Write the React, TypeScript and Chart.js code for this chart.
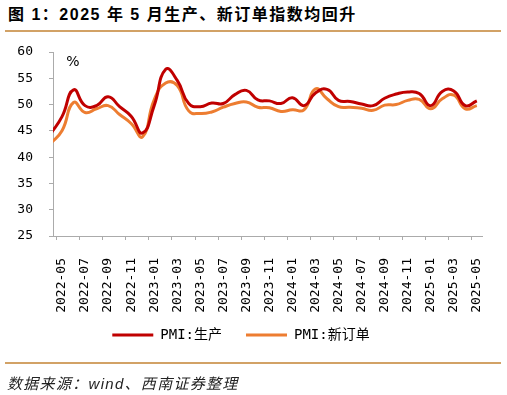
import React, { useEffect, useRef } from "react";
import { Chart, registerables } from "chart.js";

Chart.register(...registerables);

const months = [
  "2022-04", "2022-05", "2022-06", "2022-07", "2022-08", "2022-09", "2022-10", "2022-11", "2022-12",
  "2023-01", "2023-02", "2023-03", "2023-04", "2023-05", "2023-06", "2023-07", "2023-08", "2023-09",
  "2023-10", "2023-11", "2023-12",
  "2024-01", "2024-02", "2024-03", "2024-04", "2024-05", "2024-06", "2024-07", "2024-08", "2024-09",
  "2024-10", "2024-11", "2024-12",
  "2025-01", "2025-02", "2025-03", "2025-04", "2025-05",
];

const production = [
  44.4, 47.7, 52.8, 49.8, 49.8, 51.5, 49.6, 47.8, 44.6,
  49.8, 56.7, 54.6, 50.2, 49.6, 50.3, 50.2, 51.9, 52.7, 50.9, 50.7, 50.2,
  51.3, 49.8, 52.2, 52.9, 50.8, 50.6, 50.1, 49.8, 51.2, 52.0, 52.4, 52.1,
  49.8, 52.5, 52.6, 49.8, 50.7,
];

const newOrders = [
  42.6, 45.0, 50.4, 48.5, 49.2, 49.8, 48.1, 46.4, 43.9,
  50.9, 54.1, 53.6, 48.8, 48.3, 48.6, 49.5, 50.2, 50.5, 49.5, 49.4, 48.7,
  49.0, 49.0, 53.0, 51.1, 49.6, 49.5, 49.3, 48.9, 49.9, 50.0, 50.8, 51.0,
  49.2, 51.1, 51.8, 49.2, 49.8,
];

const seriesNames = ["PMI:生产", "PMI:新订单"];
const seriesColors = ["#C00000", "#ED7D31"];
const yTickValues = [25, 30, 35, 40, 45, 50, 55, 60];
const xLabelIndices = [1, 3, 5, 7, 9, 11, 13, 15, 17, 19, 21, 23, 25, 27, 29, 31, 33, 35, 37];

const AXIS_COLOR = "#ABABAB";
const MONO = "'DejaVu Sans Mono', 'Noto Sans CJK SC', monospace";
const GOLD = "#D2A266";

const extrasPlugin = {
  id: "extras",
  afterLayout(chart: any) {
    // pull the legend up closer to the rotated axis labels
    if (chart.legend) chart.legend.top -= 17;
  },
  afterDraw(chart: any) {
    const { ctx, chartArea } = chart;
    const xs = chart.scales.x;
    ctx.save();
    ctx.strokeStyle = AXIS_COLOR;
    ctx.lineWidth = 1;
    ctx.beginPath();
    xLabelIndices.forEach((i) => {
      const px = Math.round(xs.getPixelForValue(i - 0.5)) + 0.5;
      ctx.moveTo(px, chartArea.bottom);
      ctx.lineTo(px, chartArea.bottom + 4);
    });
    ctx.stroke();
    ctx.fillStyle = "#000";
    ctx.font = "14px 'DejaVu Sans', sans-serif";
    ctx.textAlign = "center";
    ctx.textBaseline = "middle";
    ctx.fillText("%", chartArea.left + 20, chartArea.top + 10);
    ctx.restore();
  },
};

function PmiChart() {
  const ref = useRef<HTMLCanvasElement | null>(null);
  useEffect(() => {
    if (!ref.current) return;
    const toPoints = (arr: number[]) => arr.map((v, i) => ({ x: i, y: v }));
    const chart = new Chart(ref.current, {
      type: "line",
      data: {
        datasets: [
          {
            label: seriesNames[0],
            data: toPoints(production),
            borderColor: seriesColors[0],
            backgroundColor: seriesColors[0],
            borderWidth: 3,
            pointRadius: 0,
            tension: 0.5,
          },
          {
            label: seriesNames[1],
            data: toPoints(newOrders),
            borderColor: seriesColors[1],
            backgroundColor: seriesColors[1],
            borderWidth: 3,
            pointRadius: 0,
            tension: 0.5,
          },
        ],
      },
      options: {
        animation: false,
        responsive: false,
        maintainAspectRatio: false,
        devicePixelRatio: 1,
        layout: { padding: { left: 0, right: 25, top: 52, bottom: 26 } },
        plugins: {
          title: { display: false },
          tooltip: { enabled: false },
          legend: {
            display: true,
            position: "bottom",
            labels: {
              boxWidth: 41,
              boxHeight: 3,
              padding: 24,
              color: "#000",
              font: { family: MONO, size: 14 },
              generateLabels: (c: any) =>
                Chart.defaults.plugins.legend.labels.generateLabels(c).map((l: any) => ({
                  ...l,
                  lineWidth: 0,
                  fillStyle: l.strokeStyle,
                })),
            },
          },
        },
        scales: {
          x: {
            type: "linear",
            min: 0.22,
            max: 37.45,
            afterFit: (s: any) => {
              s.height = 85;
            },
            afterBuildTicks: (s: any) => {
              s.ticks = xLabelIndices.map((v) => ({ value: v }));
            },
            grid: { display: false },
            border: { display: true, color: AXIS_COLOR, width: 1 },
            ticks: {
              autoSkip: false,
              minRotation: 90,
              maxRotation: 90,
              padding: 14,
              color: "#000",
              font: { family: MONO, size: 13 },
              callback: (v: any) => months[v as number] ?? "",
            },
          },
          y: {
            min: 25,
            max: 60,
            afterFit: (s: any) => {
              s.width = 53;
            },
            afterBuildTicks: (s: any) => {
              s.ticks = yTickValues.map((v) => ({ value: v }));
            },
            grid: { drawOnChartArea: false, drawTicks: true, tickLength: 4, color: AXIS_COLOR },
            border: { display: true, color: AXIS_COLOR, width: 1 },
            ticks: {
              padding: 16,
              color: "#000",
              font: { family: MONO, size: 13 },
            },
          },
        },
      },
      plugins: [extrasPlugin],
    });
    return () => chart.destroy();
  }, []);
  return (
    <canvas
      ref={ref}
      width={507}
      height={395}
      style={{ position: "absolute", left: 0, top: 0, width: 507, height: 395 }}
    />
  );
}

export default function App() {
  return (
    <div
      style={{
        position: "absolute",
        left: 0,
        top: 0,
        width: 507,
        height: 395,
        background: "#fff",
        overflow: "hidden",
      }}
    >
      <div
        style={{
          position: "absolute",
          left: 8,
          top: 5,
          fontFamily: "'Liberation Sans', 'Noto Sans CJK SC', sans-serif",
          fontWeight: "bold",
          fontSize: 16,
          lineHeight: "20px",
          letterSpacing: "1.5px",
          color: "#000",
          whiteSpace: "nowrap",
        }}
      >
        图 1：2025 年 5 月生产、新订单指数均回升
      </div>
      <div style={{ position: "absolute", left: 5, top: 30, width: 496, height: 2, background: GOLD }} />
      <PmiChart />
      <div style={{ position: "absolute", left: 5, top: 362, width: 496, height: 2, background: GOLD }} />
      <div
        style={{
          position: "absolute",
          left: 7,
          top: 374,
          fontFamily: "'Liberation Sans', 'Noto Sans CJK SC', sans-serif",
          fontStyle: "italic",
          fontSize: 15,
          lineHeight: "20px",
          letterSpacing: "1.3px",
          color: "#222",
          whiteSpace: "nowrap",
        }}
      >
        数据来源：wind、西南证券整理
      </div>
    </div>
  );
}
